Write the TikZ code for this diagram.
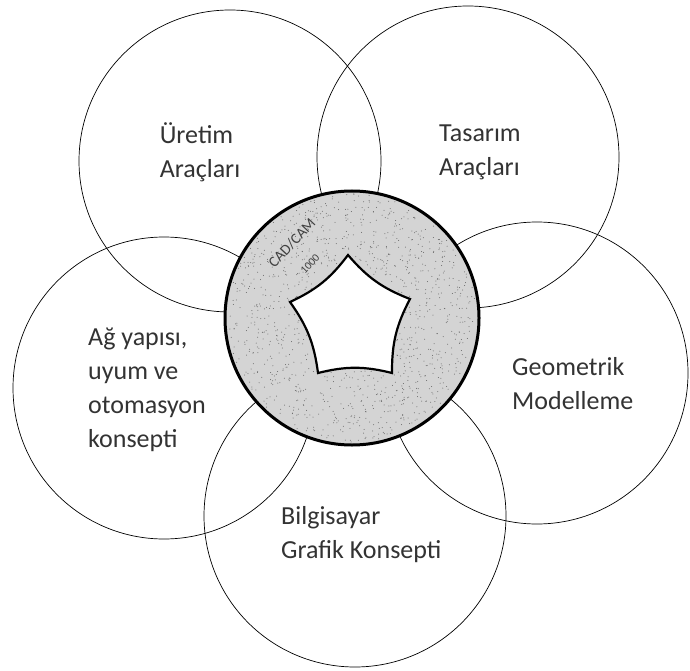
\documentclass[tikz,border=0pt]{standalone}
\usepackage{fontspec}
\setmainfont{Carlito}
\usepackage{tikz}
\usetikzlibrary{positioning}

\tikzset{
  petal/.style={circle, draw, line width=0.7pt, minimum size=302pt, inner sep=0pt},
  hub/.style={circle, draw, line width=3pt, fill=black!17, minimum size=254pt, inner sep=0pt},
  petaltext/.style={font=\fontsize{26}{34}\selectfont, text=black!80, align=left, inner sep=0pt},
  hubtext/.style={rotate=47, text=black!75, inner sep=0pt},
}

\begin{document}
\begin{tikzpicture}[x=1pt, y=-1pt]
  \useasboundingbox (0,0) rectangle (690,671);
  \fill[white] (0,0) rectangle (690,671);

  % petals
  \node (uretim) at (230, 161) [petal] {};
  \node (tasarim) at (468, 157) [petal] {};
  \node (geometrik) at (537, 373) [petal] {};
  \node (grafik) at (355, 516) [petal] {};
  \node (ag) at (164, 388) [petal] {};

  % hub
  \node (hub) at (352, 318) [hub] {};
  \foreach \i in {1,...,1300} {
    \pgfmathsetmacro{\ang}{rnd*360}
    \pgfmathsetmacro{\rad}{sqrt(rnd)*124}
    \fill[black!60] (hub.center) ++(\ang:\rad) circle (0.5pt);
  }

  \coordinate (p1) at (348, 255);
  \coordinate (p2) at (410, 299);
  \coordinate (p3) at (392, 373);
  \coordinate (p4) at (318, 373);
  \coordinate (p5) at (290, 302);
  \draw[line width=2.2pt, fill=white, line join=miter]
    (p1) to[bend right=14] (p2) to[bend right=14] (p3) to[bend right=14] (p4)
    to[bend right=14] (p5) to[bend right=14] (p1) -- cycle;

  \node (cadcam) at (292, 243) [hubtext, font=\fontsize{15}{15}\selectfont] {CAD/CAM};
  \node (cadyil) at (310, 264) [hubtext, font=\fontsize{11}{11}\selectfont] {1000};

  % labels
  \node (t1) at (200, 152) [petaltext] {Üretim\\Araçları};
  \node (t2) at (480, 152) [petaltext] {Tasarım\\Araçları};
  \node (t3) at (88, 390) [petaltext, anchor=west] {Ağ yapısı,\\uyum ve\\otomasyon\\konsepti};
  \node (t4) at (512, 384) [petaltext, anchor=west] {Geometrik\\Modelleme};
  \node (t5) at (281, 535) [petaltext, anchor=west] {Bilgisayar\\Grafik Konsepti};
\end{tikzpicture}
\end{document}
